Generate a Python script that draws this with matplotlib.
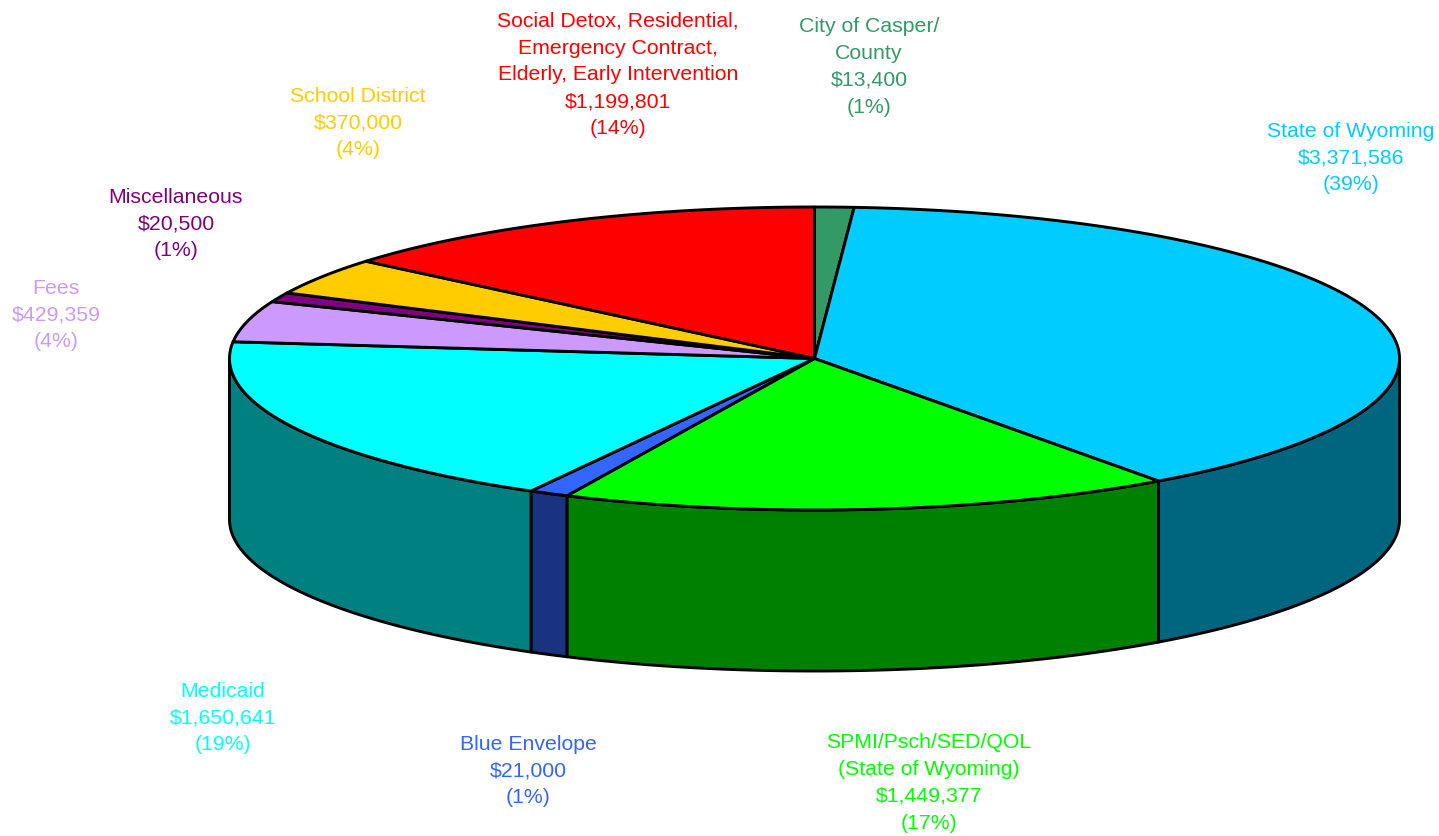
# 3D style funding pie, slices drawn as polygons on an ellipse
import numpy as np
import matplotlib
matplotlib.use('Agg')
import matplotlib.pyplot as plt
from matplotlib.patches import Polygon

# slices clockwise from 12 o'clock
names = ['City of Casper/\nCounty', 'State of Wyoming', 'SPMI/Psch/SED/QOL\n(State of Wyoming)',
         'Blue Envelope', 'Medicaid', 'Fees', 'Miscellaneous', 'School District',
         'Social Detox, Residential,\nEmergency Contract,\nElderly, Early Intervention']
dollars = ['$13,400', '$3,371,586', '$1,449,377', '$21,000', '$1,650,641',
           '$429,359', '$20,500', '$370,000', '$1,199,801']
percents = [1, 39, 17, 1, 19, 4, 1, 4, 14]
# share of the circle each slice takes in the picture (small ones are not to scale with dollars)
shares = [1.08, 38.9, 16.95, 1.1, 18.7, 4.36, 1.0, 3.97, 13.9]

top_colors = ['#339966', '#00CCFF', '#00FF00', '#3366FF', '#00FFFF', '#CC99FF', '#800080', '#FFCC00', '#FF0000']
side_colors = ['#1A4D33', '#006680', '#008000', '#1A3380', '#008080', '#664D80', '#400040', '#806600', '#800000']

# label centres in pixels (x, y of the middle of the block)
label_pos = [(869, 67), (1351, 158), (929, 783), (528, 771), (223, 718),
             (56, 315), (176, 224), (358, 123), (618, 75)]

# pie geometry in pixels
cx, cy = 814.5, 358.5
rx, ry = 585, 151.5
depth = 161
LW = 2.1

plt.rcParams['font.family'] = ['Liberation Sans', 'DejaVu Sans']

fig = plt.figure(figsize=(14.39, 8.36), dpi=100)
ax = fig.add_axes([0, 0, 1, 1])
ax.set_xlim(0, 1439)
ax.set_ylim(836, 0)
ax.axis('off')


def arc(t0, t1, dy=0):
    t = np.radians(np.linspace(t0, t1, 200))
    return np.column_stack([cx + rx * np.cos(t), cy + dy - ry * np.sin(t)])


# slice edges in degrees, going clockwise from the top
shares = np.array(shares)
edges = 90 - 360 * np.concatenate([[0], np.cumsum(shares) / shares.sum()])

# walls, only the part facing the viewer
for i in range(len(shares)):
    t0 = edges[i]
    t1 = edges[i + 1]
    a = min(t0, 0)
    b = max(t1, -180)
    if t0 > -180 and a > b:
        front = arc(a, b)
        back = arc(b, a, depth)
        ax.add_patch(Polygon(np.vstack([front, back]), closed=True, facecolor=side_colors[i],
                             edgecolor='black', linewidth=LW, joinstyle='round'))

# top face
for i in range(len(shares)):
    pts = np.vstack([[[cx, cy]], arc(edges[i], edges[i + 1])])
    ax.add_patch(Polygon(pts, closed=True, facecolor=top_colors[i],
                         edgecolor='black', linewidth=LW, joinstyle='round'))

# labels
for i in range(len(names)):
    label = names[i] + '\n' + dollars[i] + '\n(' + str(percents[i]) + '%)'
    ax.text(label_pos[i][0], label_pos[i][1], label, color=top_colors[i], fontsize=15.3,
            ha='center', va='center', linespacing=1.53)

fig.savefig('out.png', dpi=100)
